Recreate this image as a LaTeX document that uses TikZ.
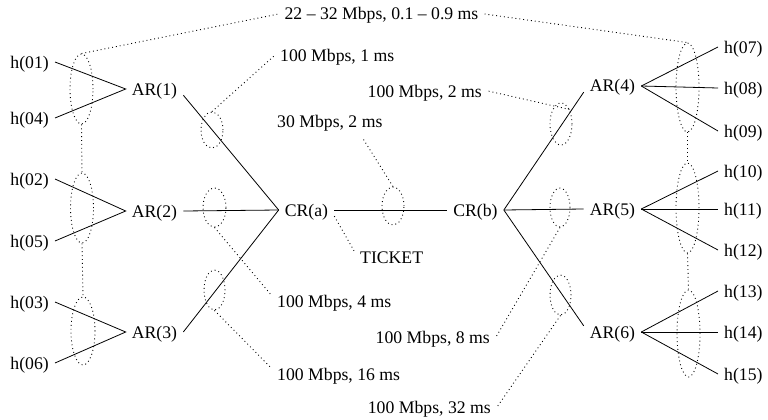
\documentclass[tikz,border=0pt]{standalone}
\usepackage{fontspec}
\setmainfont{Liberation Serif}
\usetikzlibrary{shapes.geometric}

\begin{document}
\begin{tikzpicture}[x=1pt,y=-1pt,
  lbl/.style={inner xsep=6pt,inner ysep=0pt,text height=12pt,text depth=0pt,
    font=\fontsize{17.7}{20}\selectfont},
  wire/.style={line width=0.8pt},
  tie/.style={line width=0.9pt,dash pattern=on 0.9pt off 3pt},
  oval/.style={ellipse,draw,line width=0.9pt,dash pattern=on 0.9pt off 3pt,
    inner sep=0pt,text height=0pt,text depth=0pt}]
\useasboundingbox (0,0) rectangle (768,420);
\tikzstyle{every node}=[lbl]
% hosts and routers
\node[anchor=east] (h01) at (55,62) {h(01)};
\node[anchor=east] (h04) at (55,118) {h(04)};
\node[anchor=east] (h02) at (55,179) {h(02)};
\node[anchor=east] (h05) at (55,241) {h(05)};
\node[anchor=east] (h03) at (55,302) {h(03)};
\node[anchor=east] (h06) at (55,363) {h(06)};
\node (ar1) at (154.5,89) {AR(1)};
\node (ar2) at (154.5,211) {AR(2)};
\node (ar3) at (154.5,332) {AR(3)};
\node (cra) at (306.5,210) {CR(a)};
\node (crb) at (475.5,210) {CR(b)};
\node (ar4) at (612.5,86) {AR(4)};
\node (ar5) at (612.5,209) {AR(5)};
\node (ar6) at (612.5,332) {AR(6)};
\node[anchor=west] (h07) at (718,47) {h(07)};
\node[anchor=west] (h08) at (718,88) {h(08)};
\node[anchor=west] (h09) at (718,131) {h(09)};
\node[anchor=west] (h10) at (718,171) {h(10)};
\node[anchor=west] (h11) at (718,209) {h(11)};
\node[anchor=west] (h12) at (718,250) {h(12)};
\node[anchor=west] (h13) at (718,291) {h(13)};
\node[anchor=west] (h14) at (718,332) {h(14)};
\node[anchor=west] (h15) at (718,374) {h(15)};
\node[anchor=west] (ticket) at (354,257) {TICKET};
% link labels
\node (bwtop) at (381.5,14) {22 -- 32 Mbps, 0.1 -- 0.9 ms};
\node[anchor=west] (bw1) at (274,56) {100 Mbps, 1 ms};
\node[anchor=east] (bw2) at (488,91) {100 Mbps, 2 ms};
\node[anchor=west] (bwc) at (271,121) {30 Mbps, 2 ms};
\node[anchor=west] (bw4) at (271,301) {100 Mbps, 4 ms};
\node[anchor=east] (bw8) at (496,337) {100 Mbps, 8 ms};
\node[anchor=west] (bw16) at (271,374) {100 Mbps, 16 ms};
\node[anchor=east] (bw32) at (497,407) {100 Mbps, 32 ms};
% dotted ovals
\node[oval,minimum width=23pt,minimum height=70pt] (gl1) at (81.5,89) {};
\node[oval,minimum width=23pt,minimum height=70pt] (gl2) at (82,208) {};
\node[oval,minimum width=24pt,minimum height=68pt] (gl3) at (83,331) {};
\node[oval,minimum width=23pt,minimum height=89pt] (gr1) at (687.5,87.5) {};
\node[oval,minimum width=23pt,minimum height=90pt] (gr2) at (687.5,208) {};
\node[oval,minimum width=23pt,minimum height=87pt] (gr3) at (688.5,333.5) {};
\node[oval,minimum width=22pt,minimum height=36pt] (l1) at (212,130) {};
\node[oval,minimum width=23pt,minimum height=39pt] (l2) at (214.5,207.5) {};
\node[oval,minimum width=21pt,minimum height=40pt] (l3) at (214.5,290) {};
\node[oval,minimum width=22pt,minimum height=42pt] (l4) at (561,124) {};
\node[oval,minimum width=20pt,minimum height=39pt] (l5) at (560,207.5) {};
\node[oval,minimum width=21pt,minimum height=40pt] (l6) at (560.5,295) {};
\node[oval,minimum width=22pt,minimum height=38pt] (lc) at (393,206) {};
% links
\draw[wire] (h01.east) -- (ar1.west) -- (h04.east);
\draw[wire] (h02.east) -- (ar2.west) -- (h05.east);
\draw[wire] (h03.east) -- (ar3.west) -- (h06.east);
\draw[wire] (ar1.south east) -- (cra.west);
\draw[wire] (ar2.east) -- (cra.west);
\draw[wire] (ar3.east) -- (cra.west);
\draw[wire] (cra.east) -- (crb.west);
\draw[wire] (crb.east) -- (ar4.south west);
\draw[wire] (crb.east) -- (ar5.west);
\draw[wire] (crb.east) -- (ar6.north west);
\foreach \r/\h in {ar4/h07,ar4/h08,ar4/h09,ar5/h10,ar5/h11,ar5/h12,ar6/h13,ar6/h14,ar6/h15}
  \draw[wire] (\r.east) -- (\h.west);
% dotted ties
\draw[tie] (gl1.north) -- (bwtop.west);
\draw[tie] (bwtop.east) -- (gr1.north);
\draw[tie] (gl1.south) -- (gl2.north);
\draw[tie] (gl2.south) -- (gl3.north);
\draw[tie] (gr1.south) -- (gr2.north);
\draw[tie] (gr2.south) -- (gr3.north);
\draw[tie] (l1.north) -- (bw1.west);
\draw[tie] (l2.south) -- (bw4.north west);
\draw[tie] (l3.south) -- (bw16.north west);
\draw[tie] (l4.60) -- (bw2.east);
\draw[tie] (l5.south) -- (bw8.east);
\draw[tie] (l6.south) -- (bw32.east);
\draw[tie,shorten >=12pt] (lc.north) -- ([xshift=26pt]bwc.south);
\draw[tie] (cra.south east) -- (ticket.north west);
\end{tikzpicture}
\end{document}
